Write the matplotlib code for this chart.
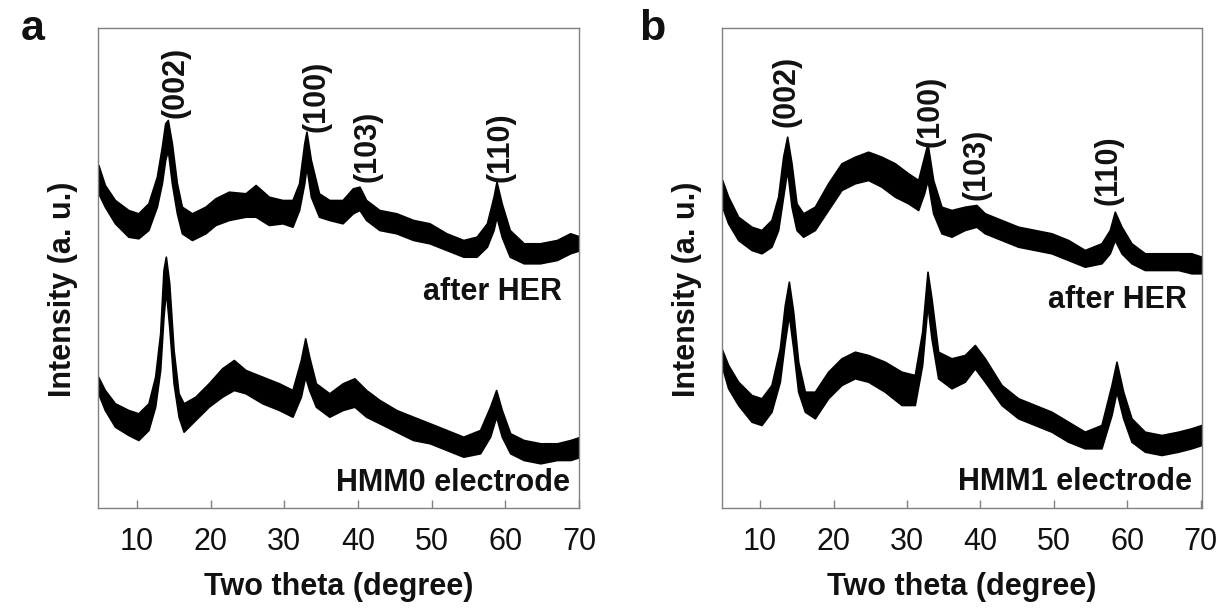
import matplotlib
matplotlib.use("Agg")
import matplotlib.pyplot as plt

# ---------------- data (two theta in degree, intensity in a.u.) ----------------
# Each noisy XRD trace is stored as its upper / lower envelope.
# Panel a, HMM0 after HER
x_a_her = [4.75, 5.63, 7.0, 8.82, 10.18, 11.54, 12.69, 13.37, 13.82, 14.18, 14.73, 15.41, 16.09, 17.46,
           19.28, 20.64, 22.46, 24.73, 26.1, 27.9, 29.74, 31.1, 32.0, 32.7, 33.0, 33.6, 34.7, 36.1,
           37.9, 39.3, 40.2, 41.1, 42.9, 45.2, 47.5, 49.7, 52.0, 54.3, 56.1, 57.5, 58.4, 58.8, 59.5,
           60.6, 62.5, 64.7, 67.0, 68.8, 70.2]
up_a_her = [343, 323, 308, 298, 294.7, 304.7, 331.3, 361.3, 384.7, 388, 364.7, 324.7, 301.3, 294.7,
            301.3, 309.7, 316.3, 314.7, 323, 311.3, 308, 308, 324.7, 364.7, 376.3, 348, 314.7, 308,
            308, 319.7, 321.3, 308, 298, 294.7, 288, 284.7, 274.7, 268, 271.3, 284.7, 311.3, 326.3, 304.7,
            278, 264.7, 264.7, 268, 274.7, 271.3]
lo_a_her = [314.7, 301.3, 284.7, 271.3, 269.7, 278, 301.3, 324.7, 348, 358, 324.7, 294.7, 274.7, 268,
            274.7, 283, 288, 291.3, 291.3, 283, 284.7, 281.3, 298, 324.7, 341.3, 311.3, 291.3, 288,
            284.7, 294.7, 298, 288, 278, 274.7, 268, 264.7, 258, 251.3, 251.3, 261.3, 278, 291.3, 271.3,
            251.3, 244.7, 244.7, 248, 254.7, 258]

# Panel a, HMM0 electrode
x_a_el = [4.72, 5.63, 7.0, 8.82, 10.18, 11.55, 12.46, 13.14, 13.59, 13.91, 14.37, 14.96, 15.64, 16.32,
          17.91, 19.73, 21.55, 23.14, 24.73, 27.01, 29.28, 31.1, 32.24, 32.83, 33.37, 34.28, 36.1,
          37.92, 39.51, 41.1, 42.92, 45.2, 47.47, 49.75, 52.02, 54.29, 56.57, 57.93, 58.75, 59.52,
          60.66, 62.48, 64.75, 67.03, 68.84, 70.21]
up_a_el = [131.3, 118, 104.7, 98, 94.7, 104.7, 131.3, 174.7, 238, 251.3, 224.7, 158, 114.7, 104.7,
           111.3, 124.7, 139.7, 148, 138, 131.3, 124.7, 118, 148, 169.7, 151.3, 124.7, 114.7,
           124.7, 129.7, 118, 108, 98, 91.3, 84.7, 78, 71.3, 78, 101.3, 118, 98,
           74.7, 68, 64.7, 64.7, 68, 71.3]
lo_a_el = [114.7, 98, 81.3, 73, 68, 78, 101.3, 138, 191.3, 218, 181.3, 124.7, 91.3, 76.3,
           88, 101.3, 111.3, 118, 114.7, 104.7, 98, 91.3, 111.3, 131.3, 118, 101.3, 91.3,
           98, 101.3, 91.3, 84.7, 76.3, 68, 64.7, 58, 51.3, 54.7, 71.3, 91.3, 71.3,
           54.7, 48, 44.7, 48, 48, 51.3]

# Panel b, HMM1 after HER
x_b_her = [4.82, 5.64, 7.0, 8.82, 10.18, 11.54, 12.45, 13.13, 13.68, 14.27, 14.95, 15.86, 17.45,
           19.26, 21.08, 22.9, 24.71, 26.53, 28.35, 30.16, 31.53, 32.34, 32.8, 33.57, 34.7, 36.07,
           37.88, 39.47, 40.61, 42.88, 45.15, 47.42, 49.69, 51.96, 54.23, 56.5, 57.64, 58.32,
           59.23, 60.59, 62.41, 64.68, 66.95, 68.76, 70.13]
up_b_her = [328, 311.3, 291.3, 281.3, 278, 288, 311.3, 351.3, 371.3, 344.7, 304.7, 294.7, 301.3,
            324.7, 344.7, 351.3, 356.3, 351.3, 344.7, 334.7, 328, 351.3, 364.7, 328, 301.3, 298,
            301.3, 303, 294.7, 288, 281.3, 278, 274.7, 268, 258, 264.7, 278, 296.3,
            281.3, 264.7, 254.7, 254.7, 254.7, 254.7, 251.3]
lo_b_her = [301.3, 284.7, 268, 258, 254.7, 261.3, 278, 311.3, 338, 301.3, 278, 271.3, 278,
            298, 318, 324.7, 328, 321.3, 311.3, 304.7, 298, 314.7, 328, 294.7, 274.7, 271.3,
            278, 281.3, 274.7, 268, 261.3, 258, 254.7, 248, 241.3, 244.7, 254.7, 268,
            254.7, 244.7, 238, 238, 238, 234.7, 234.7]

# Panel b, HMM1 electrode
x_b_el = [4.73, 5.64, 7.0, 8.82, 10.18, 11.54, 12.68, 13.36, 13.91, 14.5, 15.18, 16.09, 17.45,
          19.26, 21.08, 22.9, 24.71, 26.98, 29.26, 31.07, 32.07, 32.8, 33.34, 34.25, 36.07,
          37.88, 39.25, 40.61, 42.88, 45.15, 47.42, 49.69, 51.96, 54.23, 56.5, 57.87, 58.55,
          59.46, 60.59, 62.41, 64.68, 66.95, 68.76, 70.13]
up_b_el = [159.7, 143, 126.3, 113, 109.7, 123, 159.7, 203, 226.3, 196.3, 146.3, 116.3, 116.3,
           136.3, 149.7, 156.3, 153, 146.3, 136.3, 133, 176.3, 236.3, 209.7, 156.3, 149.7,
           153, 163, 149.7, 123, 109.7, 103, 96.3, 86.3, 76.3, 83, 123, 146.3,
           116.3, 89.7, 76.3, 73, 76.3, 79.7, 83]
lo_b_el = [143, 119.7, 103, 86.3, 83, 96.3, 126.3, 166.3, 193, 159.7, 116.3, 96.3, 89.7,
           109.7, 123, 129.7, 126.3, 116.3, 103, 103, 143, 203, 169.7, 129.7, 119.7,
           126.3, 139.7, 126.3, 103, 89.7, 83, 76.3, 66.3, 59.7, 59.7, 93, 116.3,
           89.7, 66.3, 56.3, 53, 56.3, 59.7, 63]

x_ticks = [10, 20, 30, 40, 50, 60, 70]
x_ticklabels = ["10", "20", "30", "40", "50", "60", "70"]

peak_labels = ["(002)", "(100)", "(103)", "(110)"]
peak_x_a = [15.2, 34.3, 41.3, 59.4]
peak_y_a = [390, 376, 326, 326]
peak_x_b = [13.6, 33.2, 39.5, 57.5]
peak_y_b = [381, 361, 308, 303]

# ---------------- figure ----------------
FONT = "Liberation Sans"
plt.rcParams["font.family"] = [FONT, "DejaVu Sans"]

W, H = 1222, 609
fig = plt.figure(figsize=(W / 100, H / 100), dpi=100)

def add_ax(left, right, top, bottom):
    return fig.add_axes([left / W, 1 - bottom / H, (right - left) / W, (bottom - top) / H])

ax_a = add_ax(98, 579, 28, 508)
ax_b = add_ax(722, 1202, 28, 508)

panels = [
    (ax_a, (4.7, 70.0), [(x_a_her, up_a_her, lo_a_her), (x_a_el, up_a_el, lo_a_el)],
     peak_x_a, peak_y_a, [("after HER", 67.7, 216), ("HMM0 electrode", 68.8, 25)]),
    (ax_b, (4.8, 70.2), [(x_b_her, up_b_her, lo_b_her), (x_b_el, up_b_el, lo_b_el)],
     peak_x_b, peak_y_b, [("after HER", 68.2, 208), ("HMM1 electrode", 68.9, 26)]),
]

spine_col = "#808080"
for ax, xlim, series, px, py, notes in panels:
    for xs, up, lo in series:
        ax.fill_between(xs, lo, up, color="black", linewidth=1.2, edgecolor="black")
    ax.set_xlim(*xlim)
    ax.set_ylim(0, 480)
    ax.set_yticks([])
    ax.set_xticks(x_ticks)
    ax.set_xticklabels(x_ticklabels)
    ax.tick_params(axis="x", direction="in", length=6, width=1.0, color=spine_col,
                   labelsize=22, labelcolor="#111111", pad=14, top=False)
    for s in ax.spines.values():
        s.set_color(spine_col)
        s.set_linewidth(1.0)
    for lab, x, y in zip(peak_labels, px, py):
        ax.text(x, y, lab, rotation=90, ha="center", va="bottom",
                fontsize=22, fontweight="bold", color="#111111")
    for txt, x, y in notes:
        ax.text(x, y, txt, ha="right", va="center", fontsize=22,
                fontweight="bold", color="#111111")

# axis labels
for cx, ylx in [((98 + 579) / 2, 63), ((722 + 1202) / 2, 687)]:
    fig.text(cx / W, 1 - 587 / H, "Two theta (degree)", ha="center", va="center",
             fontsize=22, fontweight="bold", color="#111111")
    fig.text(ylx / W, 1 - 289 / H, "Intensity (a. u.)", ha="center", va="center",
             rotation=90, fontsize=22, fontweight="bold", color="#111111")

# panel letters
fig.text(21 / W, 1 - 40 / H, "a", ha="left", va="baseline", fontsize=31,
         fontweight="bold", color="#111111")
fig.text(639 / W, 1 - 40 / H, "b", ha="left", va="baseline", fontsize=31,
         fontweight="bold", color="#111111")

fig.savefig("out.png", dpi=100, facecolor="white")
